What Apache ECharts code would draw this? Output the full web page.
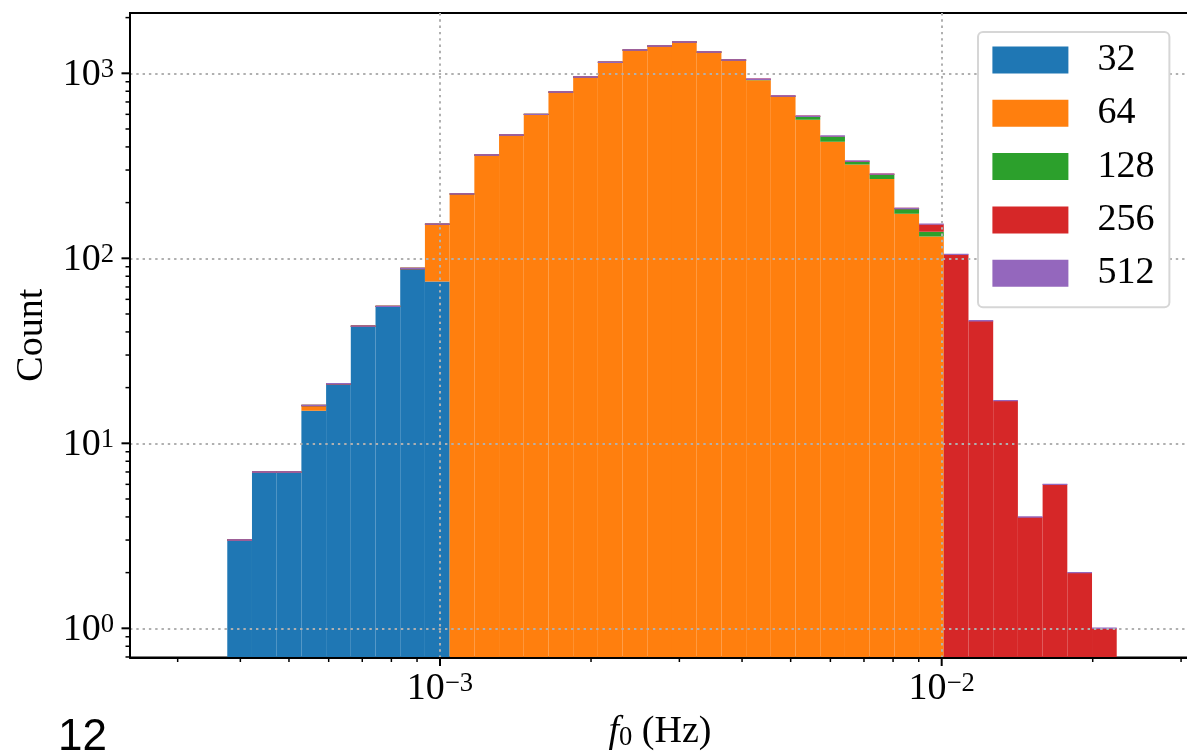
<!DOCTYPE html>
<html>
<head>
<meta charset="utf-8">
<script src="https://cdn.jsdelivr.net/npm/echarts@6/dist/echarts.min.js"></script>
<style>
  html, body { margin: 0; padding: 0; background: #fff; }
  #chart { width: 1187px; height: 754px; }
</style>
</head>
<body>
<div id="chart"></div>
<script>
// Log-spaced histogram bins of f0 (Hz)
const binLow = 3.767e-4;
const binHigh = 2.233e-2;
const binCount = 36;

// Stacked counts per bin, one list per group
const seriesNames = ['32', '64', '128', '256', '512'];
const counts32  = [3, 7, 7, 15, 21, 43, 55, 88, 75, 0, 0, 0, 0, 0, 0, 0, 0, 0, 0, 0, 0, 0, 0, 0, 0, 0, 0, 0, 0, 0, 0, 0, 0, 0, 0, 0];
const counts64  = [0, 0, 0, 1, 0, 0, 0, 0, 78, 223, 362, 464, 600, 792, 955, 1147, 1336, 1405, 1476, 1304, 1180, 916, 745, 561, 427, 321, 268, 174, 131, 0, 0, 0, 0, 0, 0, 0];
const counts128 = [0, 0, 0, 0, 0, 0, 0, 0, 0, 0, 0, 0, 0, 0, 0, 0, 0, 0, 0, 0, 0, 12, 9, 25, 28, 11, 17, 12, 8, 0, 0, 0, 0, 0, 0, 0];
const counts256 = [0, 0, 0, 0, 0, 0, 0, 0, 0, 0, 0, 0, 0, 0, 0, 0, 0, 0, 0, 0, 0, 0, 0, 0, 3, 4, 0, 0, 14, 105, 46, 17, 4, 6, 2, 1];
const counts512 = [0, 0, 0, 0, 0, 0, 0, 0, 0, 0, 0, 0, 0, 0, 0, 0, 0, 0, 0, 0, 0, 0, 0, 0, 0, 0, 0, 0, 0, 0, 0, 0, 0, 0, 0, 0];
const allCounts = [counts32, counts64, counts128, counts256, counts512];

// Axis tick values
const xMajorTicks = [1e-3, 1e-2];
const xMinorTicks = [3e-4, 4e-4, 5e-4, 6e-4, 7e-4, 8e-4, 9e-4,
                     2e-3, 3e-3, 4e-3, 5e-3, 6e-3, 7e-3, 8e-3, 9e-3,
                     2e-2, 3e-2];
const yMajorTicks = [1, 10, 100, 1000];
const yMinorTicks = [0.7, 0.8, 0.9, 2, 3, 4, 5, 6, 7, 8, 9,
                     20, 30, 40, 50, 60, 70, 80, 90,
                     200, 300, 400, 500, 600, 700, 800, 900, 2000];

// Axis limits
const X_MIN = 2.4105e-4, X_MAX = 0.031257;
const Y_MIN = 0.6954, Y_MAX = 2118;

const palette = ['#1f77b4', '#ff7f0e', '#2ca02c', '#d62728', '#9467bd'];
const SERIF = '"Liberation Serif", "Times New Roman", serif';

// geometric bin edges (log-uniform)
const edges = [];
for (let i = 0; i <= binCount; i++) {
  edges.push(binLow * Math.pow(binHigh / binLow, i / binCount));
}

// stacked segments: [lo, hi, bottom, top, count]
function buildStack(k) {
  const out = [];
  for (let i = 0; i < binCount; i++) {
    let below = 0;
    for (let j = 0; j < k; j++) below += allCounts[j][i];
    const top = below + allCounts[k][i];
    if (top <= 0) continue;
    out.push([edges[i], edges[i + 1], below > 0 ? below : Y_MIN, top, allCounts[k][i]]);
  }
  return out;
}

function barRenderer(color) {
  return function (params, api) {
    const lo = api.value(0), hi = api.value(1);
    const bottom = api.value(2), top = api.value(3), n = api.value(4);
    const pTop = api.coord([lo, top]);
    const pBot = api.coord([hi, bottom]);
    let y = pTop[1], h = pBot[1] - pTop[1];
    if (n === 0) { y = pTop[1] - 0.7; h = 1.4; }
    return {
      type: 'rect',
      shape: { x: pTop[0], y: y, width: pBot[0] - pTop[0], height: h },
      style: { fill: color }
    };
  };
}

function tickRenderer(dim) {
  return function (params, api) {
    const p = api.coord([api.value(0), api.value(1)]);
    const len = api.value(2);
    const cs = params.coordSys;
    const w = len > 6 ? 2 : 1.5;
    if (dim === 'x') {
      const y0 = cs.y + cs.height;
      return { type: 'line', shape: { x1: p[0], y1: y0, x2: p[0], y2: y0 + len },
               style: { stroke: '#000', lineWidth: w } };
    }
    const x0 = cs.x;
    return { type: 'line', shape: { x1: x0, y1: p[1], x2: x0 - len, y2: p[1] },
             style: { stroke: '#000', lineWidth: w } };
  };
}

function powerLabel(value) {
  const e = Math.log10(value);
  const r = Math.round(e);
  if (Math.abs(e - r) > 1e-6) return '';
  const exp = r < 0 ? '\u2212' + (-r) : String(r);
  return '{b|10}{s|' + exp + '}';
}

const labelRich = {
  b: { fontFamily: SERIF, fontSize: 38, lineHeight: 38, color: '#000' },
  s: { fontFamily: SERIF, fontSize: 26.6, lineHeight: 22, verticalAlign: 'top', color: '#000' }
};

const gridLine = { show: true, showMinLine: false, showMaxLine: false,
                   lineStyle: { color: '#b0b0b0', width: 2, type: [2.4, 3.9] } };

const series = seriesNames.map((name, k) => ({
  name: name,
  type: 'custom',
  coordinateSystem: 'cartesian2d',
  clip: true,
  itemStyle: { color: palette[k] },
  encode: { x: [0, 1], y: [2, 3] },
  data: buildStack(k),
  renderItem: barRenderer(palette[k]),
  silent: true
}));

const xTickData = xMajorTicks.map(v => [v, Y_MIN, 8.5])
  .concat(xMinorTicks.filter(v => v > X_MIN && v < X_MAX).map(v => [v, Y_MIN, 4.5]));
const yTickData = yMajorTicks.map(v => [X_MIN, v, 8.5])
  .concat(yMinorTicks.filter(v => v >= Y_MIN && v <= Y_MAX).map(v => [X_MIN, v, 4.5]));

series.push({
  name: 'xticks', type: 'custom', clip: false, silent: true,
  encode: { x: 0, y: 1 }, data: xTickData, renderItem: tickRenderer('x')
});
series.push({
  name: 'yticks', type: 'custom', clip: false, silent: true,
  encode: { x: 0, y: 1 }, data: yTickData, renderItem: tickRenderer('y')
});

const chart = echarts.init(document.getElementById('chart'), null, { renderer: 'canvas' });
chart.setOption({
  animation: false,
  backgroundColor: '#fff',
  color: palette,
  grid: {
    left: 130, top: 13, width: 1060, height: 644.5,
    show: true, borderColor: '#000', borderWidth: 2, backgroundColor: 'transparent',
    containLabel: false, outerBoundsMode: 'none'
  },
  xAxis: {
    type: 'log', logBase: 10, min: X_MIN, max: X_MAX, z: 10,
    axisLine: { show: true, lineStyle: { color: '#000', width: 2 } },
    axisTick: { show: false },
    minorTick: { show: false },
    axisLabel: { margin: 13, formatter: powerLabel, rich: labelRich, showMinLabel: true, showMaxLabel: true },
    splitLine: gridLine,
    name: '{i|f}{s|0}{n| (Hz)}',
    nameLocation: 'middle',
    nameGap: 54.5,
    nameTextStyle: {
      rich: {
        i: { fontFamily: SERIF, fontStyle: 'italic', fontSize: 38, lineHeight: 38, color: '#000' },
        s: { fontFamily: SERIF, fontSize: 26.6, lineHeight: 26, verticalAlign: 'bottom', color: '#000' },
        n: { fontFamily: SERIF, fontSize: 38, lineHeight: 38, color: '#000' }
      }
    }
  },
  yAxis: {
    type: 'log', logBase: 10, min: Y_MIN, max: Y_MAX, z: 10,
    axisLine: { show: true, lineStyle: { color: '#000', width: 2 } },
    axisTick: { show: false },
    minorTick: { show: false },
    axisLabel: { margin: 16, formatter: powerLabel, rich: labelRich, padding: [4, 0, 0, 0],
                 showMinLabel: true, showMaxLabel: true },
    splitLine: gridLine,
    name: 'Count',
    nameLocation: 'middle',
    nameRotate: 90,
    nameGap: 78.6,
    nameTextStyle: { fontFamily: SERIF, fontSize: 38, lineHeight: 38, color: '#000' }
  },
  legend: {
    data: seriesNames,
    orient: 'vertical',
    left: 978, top: 32,
    itemWidth: 76, itemHeight: 27, itemGap: 15.3,
    icon: 'rect',
    padding: [9, 15, 15, 14.4],
    backgroundColor: '#fff',
    borderColor: '#d6d6d6', borderWidth: 2, borderRadius: 5,
    textStyle: { fontFamily: SERIF, fontSize: 38, lineHeight: 38, color: '#000', padding: [0, 0, 0, 24] },
    selectedMode: false,
    z: 20
  },
  graphic: [{
    type: 'text', x: 58, y: 738, z: 30,
    style: { text: '12', font: '44px "Liberation Sans", Arial, sans-serif', fill: '#000', verticalAlign: 'middle' }
  }],
  series: series
});
</script>
</body>
</html>
